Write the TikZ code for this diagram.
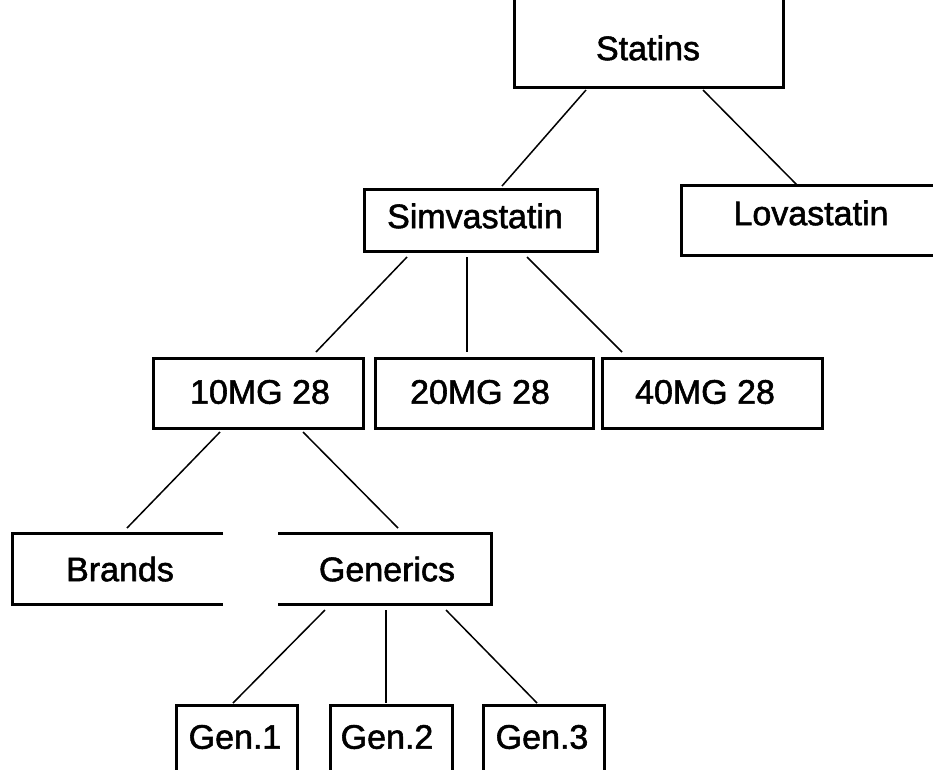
\documentclass[tikz,border=0pt]{standalone}
\usepackage{fontspec}
\setmainfont{Liberation Sans}
\newfontfamily\lblfont{Liberation Sans}[FakeBold=1.6]
\begin{document}
\begin{tikzpicture}[x=1pt,y=-1pt,
  lbl/.style={font=\lblfont\fontsize{34}{40}\selectfont, inner sep=0pt},
  frame/.style={line width=3pt, line join=miter},
  link/.style={line width=1.5pt}]
\useasboundingbox (0,0) rectangle (933,769);
\clip (0,0) rectangle (933,769);
% boxes
\draw[frame] (514,-20) rectangle (783,87);
\draw[frame] (681,185) rectangle (960,255);
\draw[frame] (364,189) rectangle (597,251);
\draw[frame] (153,358) rectangle (363,428);
\draw[frame] (375,358) rectangle (593,428);
\draw[frame] (602,358) rectangle (822,428);
\draw[frame] (223,533) -- (12,533) -- (12,604) -- (223,604);
\draw[frame] (278,533) -- (491,533) -- (491,604) -- (278,604);
\draw[frame] (176,705) rectangle (297,800);
\draw[frame] (330,705) rectangle (452,800);
\draw[frame] (483,705) rectangle (604,800);
% labels
\node[lbl] (statins) at (648,48) {Statins};
\node[lbl] (lova) at (811,213) {Lovastatin};
\node[lbl] (simva) at (475,216) {Simvastatin};
\node[lbl] (m10) at (260,392) {10MG 28};
\node[lbl] (m20) at (480,392) {20MG 28};
\node[lbl] (m40) at (705,392) {40MG 28};
\node[lbl] (brands) at (120,569) {Brands};
\node[lbl] (generics) at (387,569) {Generics};
\node[lbl] (g1) at (235,737) {Gen.1};
\node[lbl] (g2) at (387,737) {Gen.2};
\node[lbl] (g3) at (542,737) {Gen.3};
% connector end points
\coordinate (sta) at (586,90);  \coordinate (simt) at (502,186);
\coordinate (stb) at (703,90);  \coordinate (lovt) at (797,185);
\coordinate (sia) at (407,257); \coordinate (m10t) at (316,352);
\coordinate (sib) at (467,257); \coordinate (m20t) at (467,352);
\coordinate (sic) at (527,257); \coordinate (m40t) at (622,352);
\coordinate (ma) at (220,432);  \coordinate (brt) at (127,528);
\coordinate (mb) at (303,432);  \coordinate (get) at (398,528);
\coordinate (ga) at (325,610);  \coordinate (g1t) at (233,703);
\coordinate (gb) at (386,610);  \coordinate (g2t) at (386,703);
\coordinate (gc) at (446,610);  \coordinate (g3t) at (537,703);
% connectors
\draw[link] (sta) -- (simt);
\draw[link] (stb) -- (lovt);
\draw[link] (sia) -- (m10t);
\draw[link] (sib) -- (m20t);
\draw[link] (sic) -- (m40t);
\draw[link] (ma) -- (brt);
\draw[link] (mb) -- (get);
\draw[link] (ga) -- (g1t);
\draw[link] (gb) -- (g2t);
\draw[link] (gc) -- (g3t);
\end{tikzpicture}
\end{document}
